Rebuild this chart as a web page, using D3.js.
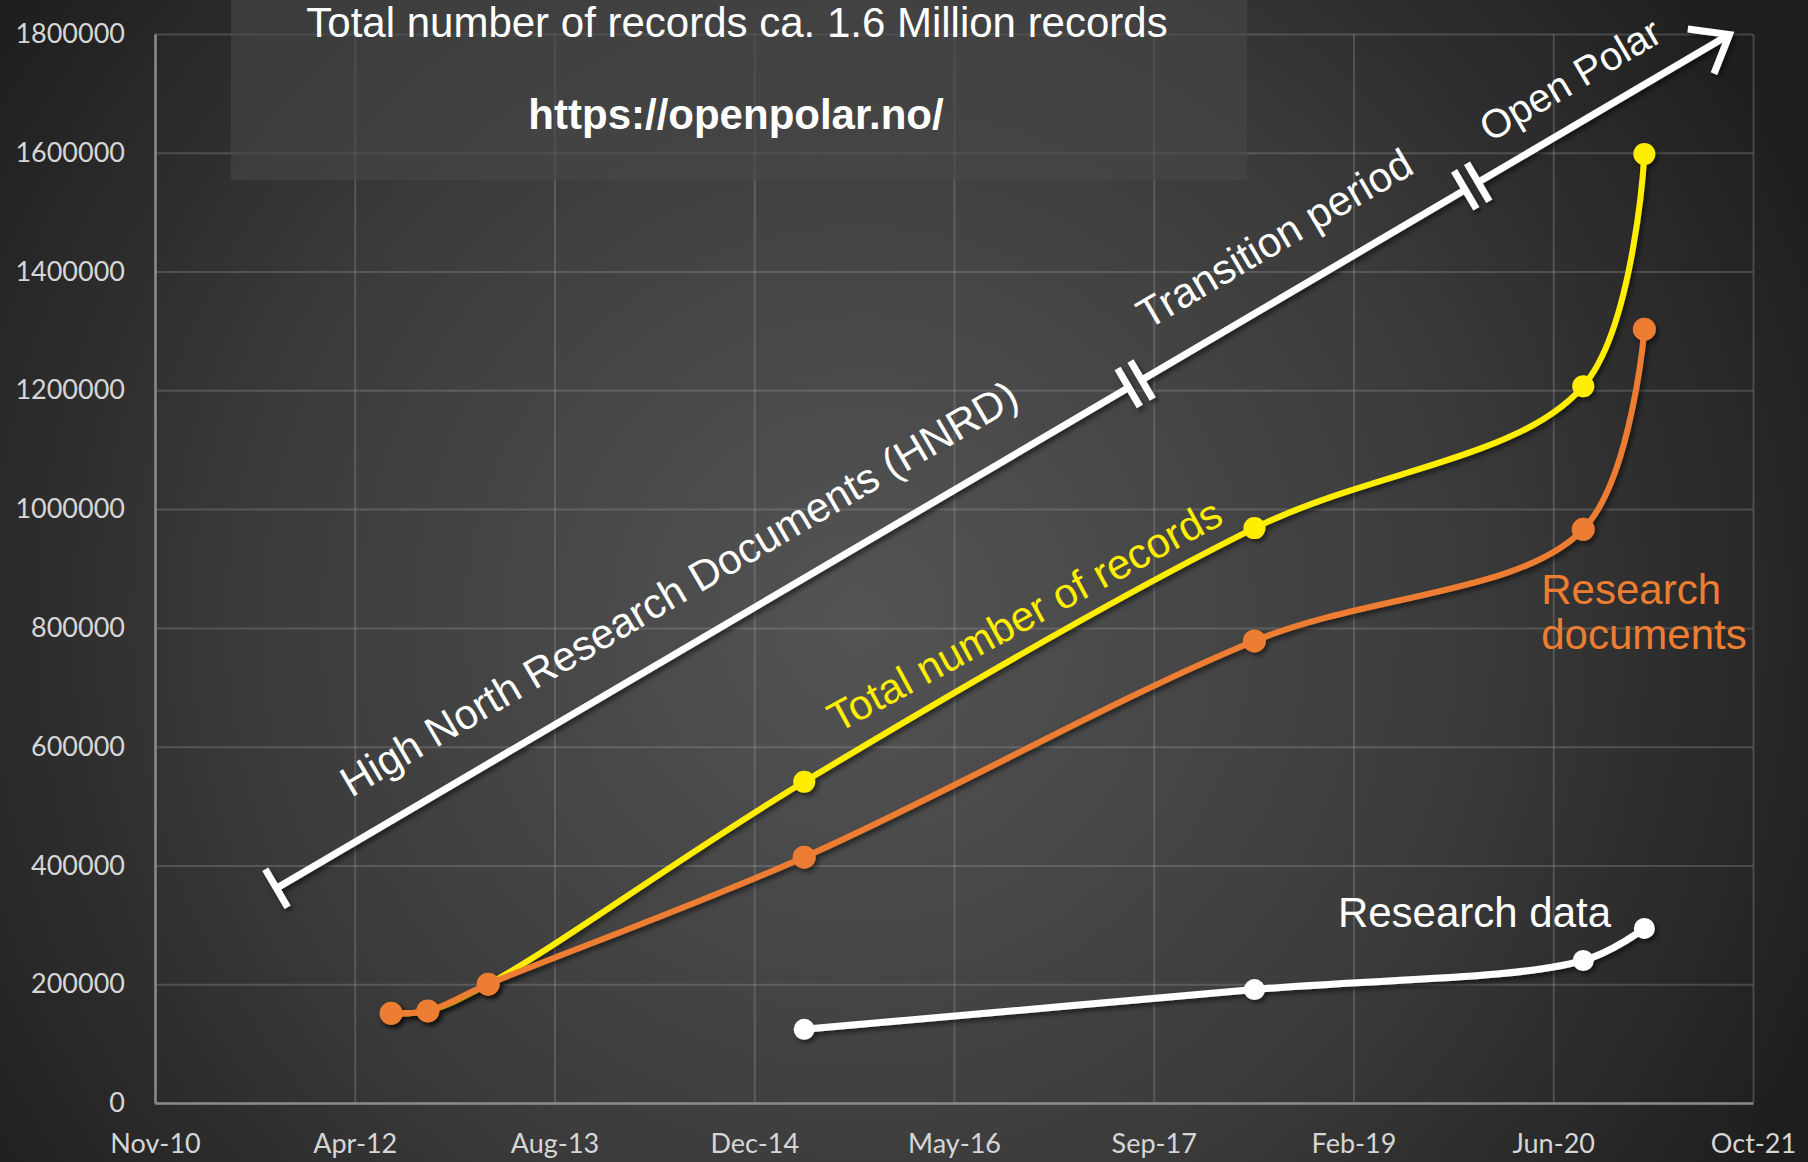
<!DOCTYPE html>
<html>
<head>
<meta charset="utf-8">
<script src="https://cdn.jsdelivr.net/npm/d3@7"></script>
<style>
  html, body { margin: 0; padding: 0; background: #2a2a2a; }
  svg { display: block; }
</style>
</head>
<body>
<script>
// ---------------- DATA ----------------
const dates = ["2012-07-01", "2012-10-01", "2013-03-01", "2015-05-01", "2018-06-01", "2020-09-01", "2021-02-01"];
const totalRecords      = [151000, 155000, 200000, 541000, 968000, 1207000, 1598000];
const researchDocuments = [151000, 155000, 200000, 414000, 778000, 966000, 1303000];
const researchData      = [null, null, null, 124000, 191000, 240000, 294000];

const xTickDates  = ["2010-11-18", "2012-04-01", "2013-08-14", "2014-12-27", "2016-05-10", "2017-09-22", "2019-02-04", "2020-06-18", "2021-10-31"];
const xTickLabels = ["Nov-10", "Apr-12", "Aug-13", "Dec-14", "May-16", "Sep-17", "Feb-19", "Jun-20", "Oct-21"];
const yTickValues = [0, 200000, 400000, 600000, 800000, 1000000, 1200000, 1400000, 1600000, 1800000];

const titleLines = ["Total number of records ca. 1.6 Million records", "https://openpolar.no/"];
const phaseLabels = ["High North Research Documents (HNRD)", "Transition period", "Open Polar"];
// arrow annotation in data space: start and tip
const arrowStart = { date: "2011-09-18", value: 361600 };
const arrowTip   = { date: "2021-09-02", value: 1799000 };
const seriesLabels = {
  total: { text: "Total number of records", date: "2016-11-20", value: 800000 },
  docs:  { text: ["Research", "documents"], date: "2020-05-19", value: 841000 },
  data:  { text: "Research data", date: "2018-12-27", value: 296000 }
};

// ---------------- LAYOUT ----------------
const W = 1808, H = 1162;
const M = { left: 155, right: 1753, top: 34, bottom: 1103 };
const parse = d3.utcParse("%Y-%m-%d");

const x = d3.scaleUtc()
  .domain([parse(xTickDates[0]), parse(xTickDates[xTickDates.length - 1])])
  .range([M.left, M.right]);
const y = d3.scaleLinear().domain([0, 1800000]).range([M.bottom, M.top]);

const svg = d3.select("body").append("svg").attr("width", W).attr("height", H);
const defs = svg.append("defs");

const grad = defs.append("radialGradient").attr("id", "bg")
  .attr("gradientUnits", "userSpaceOnUse")
  .attr("cx", 860).attr("cy", 620).attr("r", 1050);
grad.append("stop").attr("offset", "0%").attr("stop-color", "#545454");
grad.append("stop").attr("offset", "55%").attr("stop-color", "#3c3c3c");
grad.append("stop").attr("offset", "100%").attr("stop-color", "#1e1e1e");

const f = defs.append("filter").attr("id", "shadow")
  .attr("x", "-20%").attr("y", "-20%").attr("width", "140%").attr("height", "140%");
f.append("feDropShadow").attr("dx", 2.5).attr("dy", 3).attr("stdDeviation", 2.5)
  .attr("flood-color", "#000").attr("flood-opacity", 0.55);

svg.append("rect").attr("width", W).attr("height", H).attr("fill", "url(#bg)");

// ---------------- GRID ----------------
const gridColor = "rgba(160,160,160,0.30)";
const yGrid = svg.append("g").attr("transform", `translate(${M.left},0)`)
  .call(d3.axisLeft(y).tickValues(yTickValues).tickSize(-(M.right - M.left)).tickFormat(""));
yGrid.select(".domain").remove();
yGrid.selectAll("line").attr("stroke", gridColor).attr("stroke-width", 2);

const xGrid = svg.append("g").attr("transform", `translate(0,${M.bottom})`)
  .call(d3.axisBottom(x).tickValues(xTickDates.map(parse)).tickSize(-(M.bottom - M.top)).tickFormat(""));
xGrid.select(".domain").remove();
xGrid.selectAll("line").attr("stroke", gridColor).attr("stroke-width", 2);

// ---------------- AXES ----------------
const yAxis = svg.append("g").attr("transform", `translate(${M.left},0)`)
  .call(d3.axisLeft(y).tickValues(yTickValues).tickSize(0).tickPadding(30).tickFormat(d3.format("d")));
yAxis.select(".domain").attr("stroke", "#8a8a8a").attr("stroke-width", 2.5);
yAxis.selectAll("text").attr("fill", "#d6d6d6").style("font-family", "Lato, 'Open Sans', sans-serif").style("font-size", "27px");

const xAxis = svg.append("g").attr("transform", `translate(0,${M.bottom})`)
  .call(d3.axisBottom(x).tickValues(xTickDates.map(parse)).tickSize(0)
    .tickFormat((d, i) => xTickLabels[i]));
xAxis.select(".domain").attr("stroke", "#8a8a8a").attr("stroke-width", 2.5);
xAxis.selectAll("text").attr("y", 50).attr("dy", 0).attr("fill", "#d6d6d6")
  .style("font-family", "Lato, 'Open Sans', sans-serif").style("font-size", "27px");

// ---------------- TITLE BOX ----------------
const font = "'Liberation Sans', Arial, sans-serif";
svg.append("rect").attr("x", 231).attr("y", 0).attr("width", 1016).attr("height", 180)
  .attr("fill", "rgba(72,72,72,0.6)");
svg.append("text").attr("x", 737).attr("y", 37).attr("text-anchor", "middle")
  .attr("fill", "#ffffff").style("font-family", font)
  .style("font-size", "42px").text(titleLines[0]);
svg.append("text").attr("x", 736).attr("y", 129).attr("text-anchor", "middle")
  .attr("fill", "#ffffff").style("font-family", font)
  .style("font-size", "42px").style("font-weight", "bold").text(titleLines[1]);

// ---------------- PHASE ARROW ----------------
const P0 = [x(parse(arrowStart.date)), y(arrowStart.value)];
const P1 = [x(parse(arrowTip.date)), y(arrowTip.value)];
const L = Math.hypot(P1[0] - P0[0], P1[1] - P0[1]);
const u = [(P1[0] - P0[0]) / L, (P1[1] - P0[1]) / L];
const n = [u[1], -u[0]]; // perpendicular, pointing up-left
const ang = Math.atan2(u[1], u[0]) * 180 / Math.PI;
const at = (s, p = 0) => [P0[0] + u[0] * s + n[0] * p, P0[1] + u[1] * s + n[1] * p];

const breaks = [0.591 * L, 0.8226 * L];
const gap = 7.5;
const arrowG = svg.append("g").attr("filter", "url(#shadow)");
const segs = [[0, breaks[0] - gap], [breaks[0] + gap, breaks[1] - gap], [breaks[1] + gap, L - 2]];
segs.forEach(([a, b]) => {
  const A = at(a), B = at(b);
  arrowG.append("line").attr("x1", A[0]).attr("y1", A[1]).attr("x2", B[0]).attr("y2", B[1])
    .attr("stroke", "#fff").attr("stroke-width", 7);
});
const bar = (s) => {
  const A = at(s, -22), B = at(s, 22);
  arrowG.append("line").attr("x1", A[0]).attr("y1", A[1]).attr("x2", B[0]).attr("y2", B[1])
    .attr("stroke", "#fff").attr("stroke-width", 7);
};
bar(0);
breaks.forEach(b => { bar(b - gap); bar(b + gap); });
// arrow head (open chevron)
const headLen = 42, headAng = 38 * Math.PI / 180;
const back = [-u[0], -u[1]];
const rot = (v, t) => [v[0] * Math.cos(t) - v[1] * Math.sin(t), v[0] * Math.sin(t) + v[1] * Math.cos(t)];
const h1 = rot(back, headAng), h2 = rot(back, -headAng);
arrowG.append("path")
  .attr("d", `M${P1[0] + h1[0] * headLen},${P1[1] + h1[1] * headLen}L${P1[0]},${P1[1]}L${P1[0] + h2[0] * headLen},${P1[1] + h2[1] * headLen}`)
  .attr("fill", "none").attr("stroke", "#fff").attr("stroke-width", 7).attr("stroke-linejoin", "miter");

const phasePos = [0.296 * L, 0.706 * L, 0.905 * L];
const phaseOffset = [40, 40, 28];
const phaseSize = [42, 42, 40];
phaseLabels.forEach((t, i) => {
  const p = at(phasePos[i], phaseOffset[i]);
  svg.append("text").attr("transform", `translate(${p[0]},${p[1]}) rotate(${ang})`)
    .attr("text-anchor", "middle").attr("fill", "#fff")
    .style("font-family", font).style("font-size", phaseSize[i] + "px")
    .text(t);
});

// ---------------- SERIES ----------------
const line = d3.line().defined(d => d.v != null)
  .x(d => x(d.date)).y(d => y(d.v)).curve(d3.curveCatmullRom.alpha(0.5));

function drawSeries(values, color, width, r) {
  const data = dates.map((d, i) => ({ date: parse(d), v: values[i] })).filter(d => d.v != null);
  const g = svg.append("g").attr("filter", "url(#shadow)");
  g.append("path").datum(data).attr("d", line).attr("fill", "none")
    .attr("stroke", color).attr("stroke-width", width).attr("stroke-linecap", "round");
  g.selectAll("circle").data(data).join("circle")
    .attr("cx", d => x(d.date)).attr("cy", d => y(d.v)).attr("r", r).attr("fill", color);
}
drawSeries(researchData, "#ffffff", 7, 10.5);
drawSeries(totalRecords, "#ffee00", 6, 11);
drawSeries(researchDocuments, "#ed7d31", 6, 11.5);

// ---------------- SERIES LABELS ----------------
{
  const s = seriesLabels.total;
  svg.append("text")
    .attr("transform", `translate(${x(parse(s.date))},${y(s.value)}) rotate(-28.5)`)
    .attr("text-anchor", "middle").attr("fill", "#ffee00")
    .style("font-family", font).style("font-size", "42px").text(s.text);
}
{
  const s = seriesLabels.docs;
  const t = svg.append("text").attr("x", x(parse(s.date))).attr("y", y(s.value))
    .attr("fill", "#ed7d31").style("font-family", font).style("font-size", "42px");
  s.text.forEach((ln, i) => t.append("tspan").attr("x", x(parse(s.date))).attr("dy", i === 0 ? 0 : 45).text(ln));
}
{
  const s = seriesLabels.data;
  svg.append("text").attr("x", x(parse(s.date))).attr("y", y(s.value))
    .attr("fill", "#ffffff").style("font-family", font).style("font-size", "42px").text(s.text);
}
</script>
</body>
</html>
